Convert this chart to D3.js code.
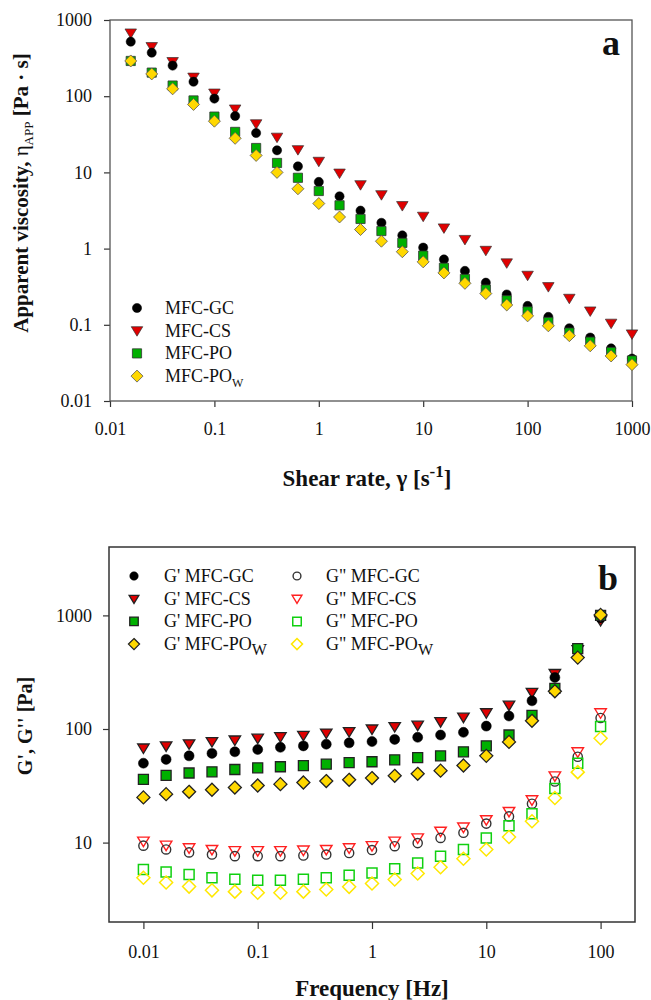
<!DOCTYPE html>
<html>
<head>
<meta charset="utf-8">
<script src="https://cdn.jsdelivr.net/npm/d3@7"></script>
<style>
  body { margin: 0; background: #fff; }
  svg text { font-family: "Liberation Serif", "Times New Roman", Times, serif; fill: #111; }
</style>
</head>
<body>
<svg id="chart"></svg>
<script>
// ---- panel a data: apparent viscosity vs shear rate ----
var shearRate = [0.0158, 0.0251, 0.0398, 0.0631, 0.1, 0.158, 0.251, 0.398, 0.631, 1,
  1.58, 2.51, 3.98, 6.31, 10, 15.8, 25.1, 39.8, 63.1, 100, 158, 251, 398, 631, 1000];
var etaGC = [520, 373, 252, 155, 93, 55, 32.9, 19.5, 12, 7.5, 4.85, 3.15, 2.18, 1.49, 1.03,
  0.72, 0.51, 0.357, 0.25, 0.177, 0.127, 0.09, 0.068, 0.049, 0.036];
var etaCS = [676, 448, 285, 178, 110, 68, 43.5, 29, 19.9, 14, 9.8, 6.9, 5.1, 3.67, 2.66,
  1.87, 1.32, 0.95, 0.65, 0.447, 0.317, 0.223, 0.152, 0.105, 0.076];
var etaPO = [290, 204, 138, 88, 54, 34, 20.9, 13.3, 8.5, 5.7, 3.7, 2.45, 1.7, 1.19, 0.81,
  0.56, 0.40, 0.29, 0.21, 0.15, 0.109, 0.079, 0.060, 0.044, 0.034];
var etaPOW = [290, 196, 125, 78, 47, 28, 16.7, 10, 6.1, 3.9, 2.6, 1.78, 1.25, 0.91, 0.67,
  0.48, 0.35, 0.257, 0.182, 0.131, 0.097, 0.072, 0.053, 0.039, 0.030];
var ticksA = [0.01, 0.1, 1, 10, 100, 1000];

// ---- panel b data: G', G'' vs frequency ----
var freq = [0.01, 0.0158, 0.0251, 0.0398, 0.0631, 0.1, 0.158, 0.251, 0.398, 0.631, 1,
  1.58, 2.51, 3.98, 6.31, 10, 15.8, 25.1, 39.8, 63.1, 100];
var g1GC = [50, 54, 58, 61, 63, 66, 69, 71, 73.5, 75.5, 77.5, 81, 84.5, 88.5, 93.5, 106, 130, 177, 284, 490, 950];
var g1CS = [68, 71, 74, 77.5, 80, 83, 85.5, 88, 92, 95, 100, 105, 108, 116, 127, 139, 162, 210, 308, 500, 900];
var g1PO = [36, 39, 41, 42, 44, 45.5, 46.5, 47.5, 49, 50.5, 51.5, 53.5, 56, 58, 63, 71, 88.5, 132, 228, 510, 1000];
var g1POW = [25, 26.7, 28, 29.2, 30.5, 31.8, 32.7, 33.8, 34.8, 35.7, 37, 38.7, 40.3, 43, 47.7, 58, 77, 118, 215, 425, 1010];
var g2GC = [9.4, 8.7, 8.2, 7.85, 7.6, 7.6, 7.6, 7.7, 7.85, 8.1, 8.6, 9.3, 9.9, 11, 12.2, 14.7, 17, 22, 34.5, 57, 125];
var g2CS = [10.3, 9.5, 9.0, 8.7, 8.5, 8.5, 8.5, 8.6, 8.7, 9.0, 9.4, 10.3, 11, 12.6, 13.7, 15.9, 18.8, 23.8, 38.7, 63, 139];
var g2PO = [5.8, 5.5, 5.25, 4.9, 4.75, 4.65, 4.65, 4.75, 4.9, 5.15, 5.4, 5.9, 6.6, 7.6, 8.7, 11, 14.1, 17.9, 30, 50, 105];
var g2POW = [4.9, 4.45, 4.1, 3.8, 3.7, 3.62, 3.62, 3.7, 3.87, 4.08, 4.37, 4.73, 5.35, 6.07, 7.2, 8.7, 11.2, 15.4, 24.7, 41.7, 83];
var ticksBx = [0.01, 0.1, 1, 10, 100];
var ticksBy = [10, 100, 1000];

var RED = "#e00000", GREEN = "#00b000", YELLOW = "#ffd800";
var SERIF = "Liberation Serif";

var svg = d3.select("#chart").attr("width", 651).attr("height", 1000)
  .attr("font-family", SERIF);
svg.append("rect").attr("width", 651).attr("height", 1000).attr("fill", "#fff");

// marker outline for a shape of half-size s
function shapePath(shape, s) {
  if (shape == "circle") return d3.symbol(d3.symbolCircle, Math.PI * s * s)();
  if (shape == "square") return d3.symbol(d3.symbolSquare, 4 * s * s)();
  if (shape == "diamond") return "M0," + (-s) + "L" + s + ",0L0," + s + "L" + (-s) + ",0Z";
  // downward triangle
  return "M" + (-s * 1.15) + "," + (-s * 0.8) + "L" + (s * 1.15) + "," + (-s * 0.8) + "L0," + (s * 1.1) + "Z";
}

function drawSeries(g, xs, ys, x, y, st) {
  g.append("g").selectAll("path")
    .data(xs.map((d, i) => [d, ys[i]]))
    .join("path")
    .attr("d", shapePath(st.shape, st.size))
    .attr("transform", d => "translate(" + x(d[0]) + "," + y(d[1]) + ")")
    .attr("fill", st.fill)
    .attr("stroke", st.stroke)
    .attr("stroke-width", st.sw);
}

function legendMarker(g, cx, cy, st) {
  g.append("path")
    .attr("d", shapePath(st.shape, st.size))
    .attr("transform", "translate(" + cx + "," + cy + ")")
    .attr("fill", st.fill).attr("stroke", st.stroke).attr("stroke-width", st.sw);
}

function styleAxis(ax) {
  ax.attr("font-family", SERIF);
  ax.select(".domain").remove();
  ax.selectAll(".tick line").attr("stroke", "#333").attr("stroke-width", 1.2);
  ax.selectAll(".tick text").attr("font-size", 18).attr("fill", "#111")
    .attr("font-family", SERIF);
}

// ================= panel a =================
var xA = d3.scaleLog().domain([0.01, 1000]).range([110, 632]);
var yA = d3.scaleLog().domain([0.01, 1000]).range([401, 20]);

var ga = svg.append("g");
var axA = ga.append("g").attr("transform", "translate(0,401)")
  .call(d3.axisBottom(xA).tickValues(ticksA).tickSize(6).tickPadding(15).tickFormat(d => String(d)));
styleAxis(axA);
var ayA = ga.append("g").attr("transform", "translate(110,0)")
  .call(d3.axisLeft(yA).tickValues(ticksA).tickSize(6).tickPadding(12).tickFormat(d => String(d)));
styleAxis(ayA);
ga.append("rect").attr("x", 110).attr("y", 20).attr("width", 522).attr("height", 381)
  .attr("fill", "none").attr("stroke", "#555").attr("stroke-width", 1.3);

var stA = {
  CS: { shape: "triangle", size: 5, fill: RED, stroke: "#333", sw: 0.7 },
  GC: { shape: "circle", size: 4.6, fill: "#000", stroke: "#000", sw: 0.5 },
  PO: { shape: "square", size: 4.6, fill: GREEN, stroke: "#333", sw: 0.8 },
  POW: { shape: "diamond", size: 6, fill: YELLOW, stroke: "#555", sw: 0.8 }
};
drawSeries(ga, shearRate, etaCS, xA, yA, stA.CS);
drawSeries(ga, shearRate, etaGC, xA, yA, stA.GC);
drawSeries(ga, shearRate, etaPO, xA, yA, stA.PO);
drawSeries(ga, shearRate, etaPOW, xA, yA, stA.POW);

var legA = [["GC", "MFC-GC"], ["CS", "MFC-CS"], ["PO", "MFC-PO"], ["POW", "MFC-PO"]];
legA.forEach(function (d, i) {
  var yy = 308 + i * 22.7;
  legendMarker(ga, 137, yy, stA[d[0]]);
  var t = ga.append("text").attr("x", 165).attr("y", yy + 6).attr("font-size", 18).text(d[1]);
  if (d[0] == "POW") t.append("tspan").attr("dy", 5).attr("font-size", 12).text("W");
});

ga.append("text").attr("x", 611).attr("y", 55).attr("text-anchor", "middle")
  .attr("font-size", 36).attr("font-weight", "bold").text("a");

var xtA = ga.append("text").attr("x", 367).attr("y", 486).attr("text-anchor", "middle")
  .attr("font-size", 23).attr("font-weight", "bold");
xtA.append("tspan").text("Shear rate, γ [s");
xtA.append("tspan").attr("dy", -9).attr("font-size", 17).text("-1");
xtA.append("tspan").attr("dy", 9).text("]");

var ytA = ga.append("text").attr("transform", "translate(28,193) rotate(-90)")
  .attr("text-anchor", "middle").attr("font-size", 21).attr("font-weight", "bold");
ytA.append("tspan").text("Apparent viscosity, ");
ytA.append("tspan").attr("font-weight", "normal").text("η");
ytA.append("tspan").attr("dy", 5).attr("font-size", 13).attr("font-weight", "normal").text("APP");
ytA.append("tspan").attr("dy", -5).text(" [Pa · s]");

// ================= panel b =================
var xB = d3.scaleLog().domain([0.005, 200]).range([109, 635]);
var yB = d3.scaleLog().domain([2, 4000]).range([922, 547]);

var gb = svg.append("g");
var axB = gb.append("g").attr("transform", "translate(0,922)")
  .call(d3.axisBottom(xB).tickValues(ticksBx).tickSize(7).tickPadding(16).tickFormat(d => String(d)));
styleAxis(axB);
var ayB = gb.append("g").attr("transform", "translate(109,0)")
  .call(d3.axisLeft(yB).tickValues(ticksBy).tickSize(6).tickPadding(11).tickFormat(d => String(d)));
styleAxis(ayB);
gb.append("rect").attr("x", 109).attr("y", 547).attr("width", 526).attr("height", 375)
  .attr("fill", "none").attr("stroke", "#333").attr("stroke-width", 1.5);

var stB = {
  GC1: { shape: "circle", size: 5, fill: "#000", stroke: "#000", sw: 0.5 },
  CS1: { shape: "triangle", size: 5, fill: RED, stroke: "#222", sw: 1.3 },
  PO1: { shape: "square", size: 5, fill: GREEN, stroke: "#222", sw: 1.3 },
  POW1: { shape: "diamond", size: 6.5, fill: YELLOW, stroke: "#222", sw: 1.3 },
  GC2: { shape: "circle", size: 4.6, fill: "none", stroke: "#333", sw: 1.4 },
  CS2: { shape: "triangle", size: 5, fill: "none", stroke: "#ff2020", sw: 1.4 },
  PO2: { shape: "square", size: 5, fill: "none", stroke: "#10d010", sw: 1.5 },
  POW2: { shape: "diamond", size: 6.5, fill: "none", stroke: "#ffe800", sw: 1.5 }
};
drawSeries(gb, freq, g1CS, xB, yB, stB.CS1);
drawSeries(gb, freq, g1GC, xB, yB, stB.GC1);
drawSeries(gb, freq, g1PO, xB, yB, stB.PO1);
drawSeries(gb, freq, g1POW, xB, yB, stB.POW1);
drawSeries(gb, freq, g2CS, xB, yB, stB.CS2);
drawSeries(gb, freq, g2GC, xB, yB, stB.GC2);
drawSeries(gb, freq, g2PO, xB, yB, stB.PO2);
drawSeries(gb, freq, g2POW, xB, yB, stB.POW2);

var legB = [
  ["GC1", "G' MFC-GC", 0], ["CS1", "G' MFC-CS", 0], ["PO1", "G' MFC-PO", 0], ["POW1", "G' MFC-PO", 1],
  ["GC2", "G\" MFC-GC", 0], ["CS2", "G\" MFC-CS", 0], ["PO2", "G\" MFC-PO", 0], ["POW2", "G\" MFC-PO", 1]
];
legB.forEach(function (d, i) {
  var col = Math.floor(i / 4), row = i % 4;
  var yy = 576 + row * 22.7;
  var mx = col ? 297 : 134, tx = col ? 326 : 164;
  legendMarker(gb, mx, yy, Object.assign({}, stB[d[0]], { size: stB[d[0]].size * 0.85 }));
  var t = gb.append("text").attr("x", tx).attr("y", yy + 6).attr("font-size", 18).text(d[1]);
  if (d[2]) t.append("tspan").attr("dy", 5).attr("font-size", 16).text("W");
});

gb.append("text").attr("x", 608).attr("y", 590).attr("text-anchor", "middle")
  .attr("font-size", 36).attr("font-weight", "bold").text("b");

gb.append("text").attr("x", 372).attr("y", 996).attr("text-anchor", "middle")
  .attr("font-size", 23).attr("font-weight", "bold").text("Frequency [Hz]");
gb.append("text").attr("transform", "translate(32,726) rotate(-90)")
  .attr("text-anchor", "middle").attr("font-size", 20).attr("font-weight", "bold")
  .text("G', G'' [Pa]");
</script>
</body>
</html>
